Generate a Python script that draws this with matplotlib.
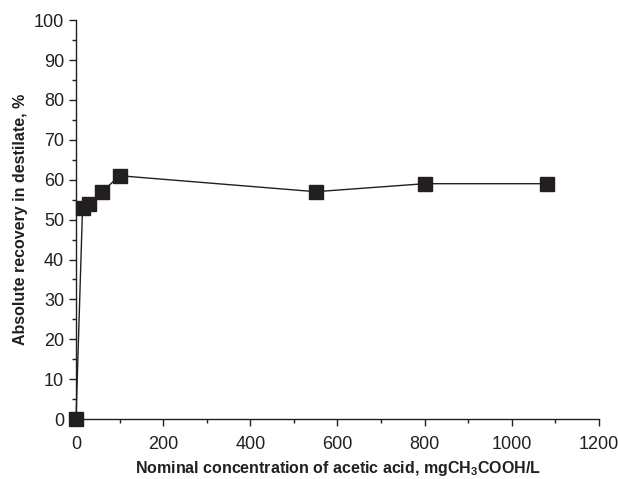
import matplotlib
matplotlib.use("Agg")
import matplotlib.pyplot as plt
from matplotlib.ticker import MultipleLocator

plt.rcParams['font.family'] = ['Liberation Sans', 'DejaVu Sans']
plt.rcParams['mathtext.fontset'] = 'custom'
plt.rcParams['mathtext.rm'] = 'Liberation Sans:bold'
plt.rcParams['mathtext.it'] = 'Liberation Sans:bold'

# 数据
conc = [0, 15, 30, 60, 100, 550, 800, 1080]
recovery = [0, 53, 54, 57, 61, 57, 59, 59]

fig = plt.figure(figsize=(6.18, 4.79), dpi=100)
ax = fig.add_axes([0.123, 0.125, 0.846, 0.833])

ax.plot(conc, recovery, color='#231f20', linewidth=1.0, marker='s',
        markersize=10, markerfacecolor='#231f20', markeredgecolor='#231f20',
        clip_on=False, zorder=5)

ax.set_xlim(0, 1200)
ax.set_ylim(0, 100)
ax.xaxis.set_major_locator(MultipleLocator(200))
ax.xaxis.set_minor_locator(MultipleLocator(100))
ax.yaxis.set_major_locator(MultipleLocator(10))
ax.yaxis.set_minor_locator(MultipleLocator(5))

for s in ['top', 'right']:
    ax.spines[s].set_visible(False)
for s in ['left', 'bottom']:
    ax.spines[s].set_color('#231f20')
    ax.spines[s].set_linewidth(1.0)

ax.tick_params(which='major', direction='out', length=5, width=1.0,
               colors='#231f20', labelsize=13, labelcolor='#231f20')
ax.tick_params(which='minor', direction='out', length=3, width=1.0,
               colors='#231f20')
ax.tick_params(axis='x', which='major', pad=7)

ax.set_xlabel('Nominal concentration of acetic acid, mgCH$_3$COOH/L',
              fontsize=11.5, fontweight='bold', color='#231f20')
ax.xaxis.set_label_coords(0.5, -0.10)
ax.set_ylabel('Absolute recovery in destilate, %',
              fontsize=11.5, fontweight='bold', color='#231f20', labelpad=4)

plt.savefig('out.png', dpi=100)
